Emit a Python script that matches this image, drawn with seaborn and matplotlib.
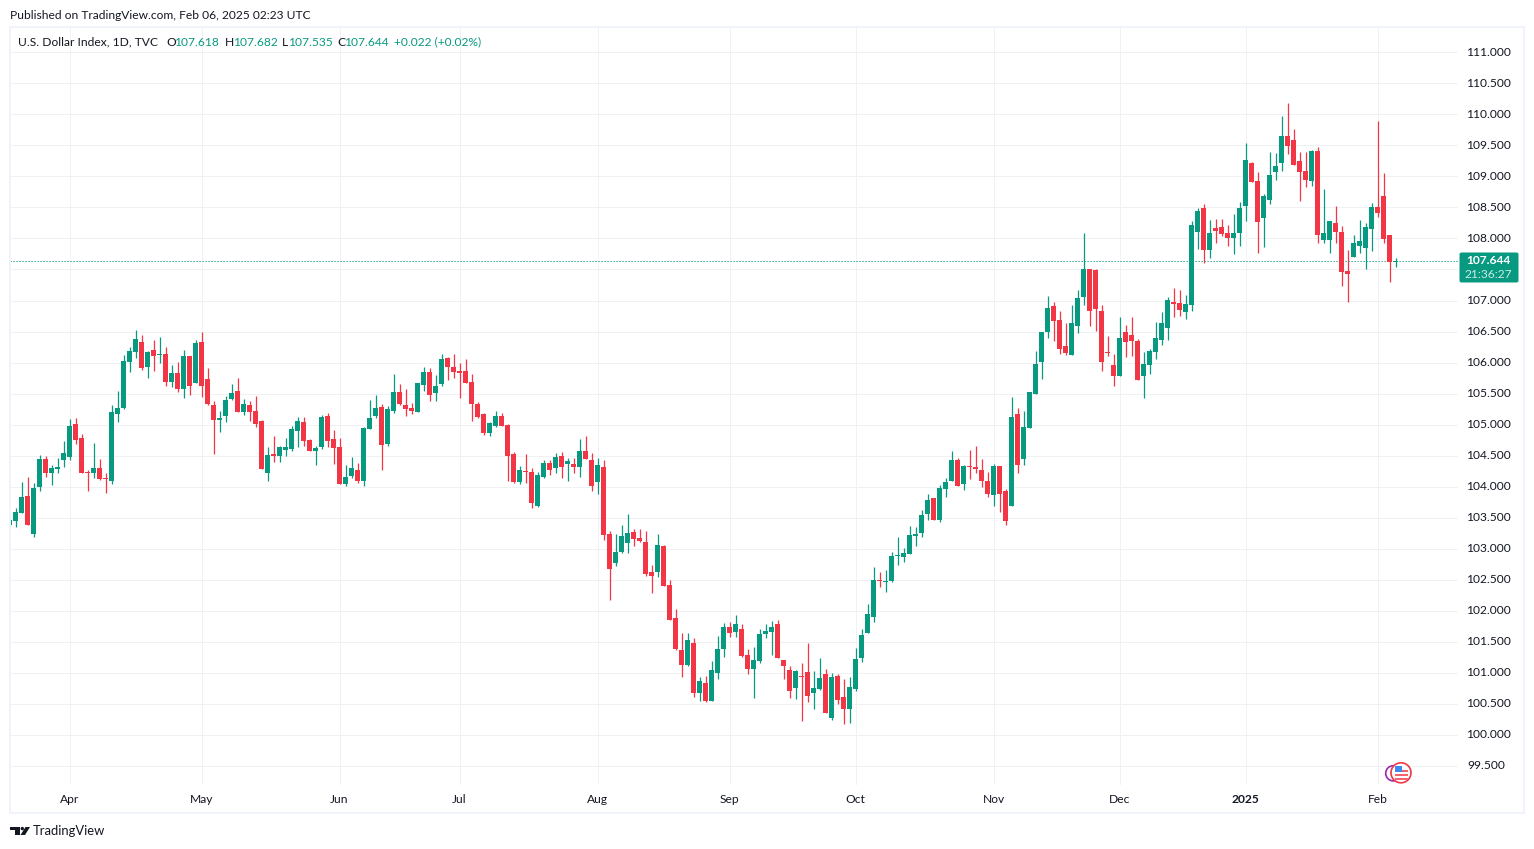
import matplotlib
matplotlib.use("Agg")
import matplotlib.pyplot as plt
import numpy as np
import pandas as pd
import seaborn as sns
from matplotlib.patches import Circle, FancyBboxPatch, Polygon, Rectangle
from matplotlib.transforms import ScaledTranslation

# daily DXY candles, first one is cut by the left edge
open_px = [
    103.38, 103.44, 103.58, 103.84, 103.24, 104.00, 104.44, 104.22, 104.29, 104.43,
    104.48, 105.01, 104.78, 104.23, 104.21, 104.30, 104.13, 104.09, 105.17, 105.26,
    106.01, 106.17, 106.33, 105.93, 106.20, 106.12, 106.14, 105.69, 105.83, 105.58,
    106.10, 105.67, 106.33, 105.73, 105.31, 105.08, 105.14, 105.41, 105.54, 105.20,
    105.31, 105.22, 105.05, 104.21, 104.51, 104.50, 104.59, 104.61, 104.90, 105.04,
    104.75, 104.58, 104.64, 105.13, 104.76, 104.63, 104.04, 104.17, 104.26, 104.09,
    104.93, 105.14, 105.28, 104.69, 105.22, 105.52, 105.31, 105.26, 105.20, 105.64,
    105.84, 105.51, 105.66, 106.07, 105.93, 105.86, 105.86, 105.68, 105.33, 105.17,
    104.87, 104.98, 105.13, 104.99, 104.52, 104.08, 104.25, 104.23, 103.69, 104.16,
    104.38, 104.30, 104.49, 104.37, 104.36, 104.32, 104.57, 104.43, 104.08, 104.31,
    103.23, 102.77, 102.95, 103.09, 103.26, 103.17, 103.10, 102.62, 102.62, 103.04,
    102.41, 101.88, 101.36, 101.12, 101.47, 100.67, 100.83, 100.54, 101.00, 101.38,
    101.73, 101.66, 101.70, 101.28, 101.06, 101.19, 101.62, 101.66, 101.78, 101.20,
    101.04, 100.75, 100.94, 101.01, 100.67, 100.73, 100.97, 100.27, 100.94, 100.60,
    100.41, 100.74, 101.24, 101.64, 101.90, 102.48, 102.46, 102.47, 102.88, 102.86,
    102.91, 103.20, 103.25, 103.56, 103.81, 103.46, 103.96, 104.09, 104.43, 104.04,
    104.33, 104.31, 104.26, 104.09, 103.87, 104.33, 103.93, 103.69, 105.17, 104.45,
    104.95, 105.50, 106.01, 106.50, 106.91, 106.68, 106.26, 106.12, 106.59, 107.06,
    107.51, 107.49, 106.83, 106.17, 105.96, 105.79, 106.49, 106.44, 106.34, 105.79,
    105.96, 106.17, 106.36, 106.55, 106.97, 106.96, 106.81, 106.93, 108.10, 108.49,
    107.81, 108.17, 108.18, 108.09, 108.01, 108.09, 108.52, 109.22, 108.93, 108.33,
    108.62, 109.07, 109.22, 109.65, 109.59, 109.25, 109.09, 108.93, 109.41, 107.97,
    107.97, 108.25, 108.10, 107.47, 107.70, 107.88, 107.84, 108.15, 108.51, 108.68,
    108.05, 107.618,
]
high_px = [
    103.46, 103.65, 104.07, 104.15, 104.05, 104.51, 104.49, 104.34, 104.46, 104.73,
    105.09, 105.10, 104.84, 104.26, 104.70, 104.44, 104.22, 105.31, 105.54, 106.12,
    106.25, 106.52, 106.44, 106.18, 106.36, 106.41, 106.25, 105.96, 106.01, 106.20,
    106.10, 106.36, 106.49, 105.91, 105.38, 105.22, 105.46, 105.65, 105.75, 105.41,
    105.38, 105.46, 105.07, 104.64, 104.81, 104.65, 104.78, 104.97, 105.12, 105.12,
    104.76, 104.65, 105.15, 105.18, 104.91, 104.78, 104.34, 104.47, 104.38, 104.96,
    105.39, 105.47, 105.33, 105.30, 105.81, 105.65, 105.57, 105.34, 105.67, 105.93,
    105.91, 105.80, 106.13, 106.09, 106.13, 105.99, 106.05, 105.81, 105.36, 105.18,
    105.04, 105.21, 105.18, 105.01, 104.55, 104.33, 104.52, 104.30, 104.23, 104.43,
    104.43, 104.54, 104.55, 104.46, 104.46, 104.76, 104.81, 104.54, 104.46, 104.43,
    103.28, 103.23, 103.38, 103.55, 103.31, 103.31, 103.28, 102.73, 103.23, 103.05,
    102.49, 102.02, 101.64, 101.64, 101.55, 100.93, 100.94, 101.18, 101.59, 101.80,
    101.81, 101.93, 101.78, 101.38, 101.41, 101.70, 101.78, 101.83, 101.84, 101.20,
    101.10, 101.04, 101.15, 101.47, 101.02, 101.23, 101.05, 100.99, 100.97, 100.89,
    100.93, 101.39, 101.70, 102.10, 102.70, 102.62, 102.65, 102.94, 103.18, 103.01,
    103.36, 103.34, 103.62, 103.88, 103.81, 104.02, 104.14, 104.57, 104.46, 104.34,
    104.59, 104.65, 104.44, 104.23, 104.36, 104.33, 103.96, 105.44, 105.26, 105.22,
    105.52, 106.18, 106.49, 107.07, 106.97, 106.83, 106.64, 106.93, 107.17, 108.09,
    107.51, 107.51, 106.93, 106.43, 106.14, 106.73, 106.60, 106.73, 106.38, 106.17,
    106.22, 106.65, 106.81, 107.05, 107.20, 107.17, 107.09, 108.28, 108.49, 108.55,
    108.30, 108.31, 108.31, 108.22, 108.39, 108.59, 109.54, 109.23, 109.07, 108.72,
    109.39, 109.38, 109.97, 110.18, 109.76, 109.39, 109.39, 109.43, 109.47, 108.80,
    108.28, 108.52, 108.20, 107.81, 108.05, 108.30, 108.25, 108.57, 109.89, 109.05,
    108.05, 107.682,
]
low_px = [
    103.38, 103.35, 103.58, 103.38, 103.19, 103.93, 104.16, 104.03, 104.22, 104.32,
    104.43, 104.69, 104.22, 103.93, 104.14, 104.11, 103.90, 104.04, 105.04, 105.25,
    105.85, 106.08, 105.88, 105.75, 105.87, 106.00, 105.62, 105.61, 105.53, 105.43,
    105.48, 105.67, 105.45, 105.32, 104.53, 104.88, 105.04, 105.40, 105.20, 105.16,
    105.06, 104.96, 104.29, 104.09, 104.40, 104.40, 104.50, 104.58, 104.64, 104.66,
    104.58, 104.34, 104.61, 104.63, 104.36, 104.04, 104.01, 104.14, 104.06, 104.01,
    104.93, 105.11, 104.27, 104.66, 105.19, 105.32, 105.14, 105.17, 105.20, 105.54,
    105.38, 105.38, 105.62, 105.72, 105.75, 105.43, 105.67, 105.06, 105.11, 104.83,
    104.82, 104.96, 104.98, 104.09, 104.06, 104.04, 104.06, 103.66, 103.67, 104.14,
    104.19, 104.22, 104.14, 104.09, 104.22, 104.16, 104.45, 103.93, 103.88, 103.14,
    102.17, 102.71, 102.93, 102.93, 103.04, 103.11, 102.56, 102.29, 102.54, 102.40,
    101.85, 101.37, 100.93, 101.11, 100.61, 100.54, 100.53, 100.54, 100.90, 101.25,
    101.58, 101.58, 101.25, 100.98, 100.59, 101.16, 101.56, 101.29, 101.24, 100.90,
    100.59, 100.58, 100.22, 100.53, 100.41, 100.72, 100.35, 100.24, 100.50, 100.17,
    100.19, 100.71, 101.17, 101.64, 101.82, 102.38, 102.30, 102.46, 102.73, 102.78,
    102.91, 103.04, 103.18, 103.46, 103.46, 103.43, 103.83, 104.09, 104.01, 103.94,
    104.12, 104.22, 104.00, 103.83, 103.69, 103.59, 103.38, 103.69, 104.21, 104.35,
    104.95, 105.50, 105.74, 106.40, 106.35, 106.14, 106.12, 106.12, 106.48, 106.93,
    106.59, 106.51, 105.87, 106.11, 105.62, 105.79, 106.09, 106.11, 105.71, 105.43,
    105.82, 106.06, 106.28, 106.36, 106.73, 106.75, 106.70, 106.83, 107.83, 107.60,
    107.68, 107.93, 108.04, 107.88, 107.75, 107.88, 108.28, 108.91, 107.76, 107.86,
    108.55, 108.94, 109.09, 109.36, 109.18, 108.60, 108.83, 108.84, 107.93, 107.93,
    107.76, 107.93, 107.23, 106.97, 107.70, 107.76, 107.51, 107.80, 108.34, 107.93,
    107.30, 107.535,
]
close_px = [
    103.46, 103.59, 103.83, 103.38, 103.97, 104.44, 104.22, 104.30, 104.30, 104.54,
    104.97, 104.75, 104.22, 104.21, 104.30, 104.12, 104.12, 105.20, 105.26, 106.02,
    106.18, 106.38, 105.91, 106.17, 106.11, 106.14, 105.69, 105.83, 105.58, 106.10,
    105.62, 106.31, 105.62, 105.33, 105.08, 105.09, 105.39, 105.51, 105.20, 105.33,
    105.20, 105.01, 104.29, 104.51, 104.50, 104.64, 104.64, 104.92, 105.05, 104.74,
    104.58, 104.62, 105.12, 104.74, 104.62, 104.04, 104.15, 104.30, 104.09, 104.94,
    105.10, 105.26, 104.67, 105.25, 105.52, 105.33, 105.25, 105.22, 105.67, 105.84,
    105.48, 105.62, 106.05, 105.93, 105.85, 105.83, 105.67, 105.33, 105.12, 104.87,
    105.02, 105.13, 104.98, 104.49, 104.08, 104.26, 104.23, 103.74, 104.18, 104.38,
    104.27, 104.47, 104.32, 104.41, 104.32, 104.57, 104.45, 104.01, 104.34, 103.22,
    102.67, 102.94, 103.20, 103.25, 103.16, 103.12, 102.59, 102.56, 103.05, 102.40,
    101.85, 101.38, 101.12, 101.52, 100.67, 100.86, 100.54, 101.04, 101.38, 101.73,
    101.64, 101.78, 101.26, 101.06, 101.20, 101.62, 101.67, 101.73, 101.24, 101.11,
    100.71, 101.02, 100.93, 100.62, 100.75, 100.91, 100.35, 100.93, 100.56, 100.41,
    100.76, 101.22, 101.60, 101.94, 102.49, 102.47, 102.47, 102.88, 102.89, 102.93,
    103.22, 103.23, 103.54, 103.78, 103.46, 103.97, 104.07, 104.43, 104.01, 104.33,
    104.32, 104.28, 104.09, 103.88, 104.33, 103.88, 103.45, 105.12, 104.35, 104.96,
    105.52, 105.97, 106.49, 106.88, 106.67, 106.22, 106.16, 106.64, 107.04, 107.51,
    106.83, 106.87, 106.01, 106.16, 105.79, 106.39, 106.33, 106.35, 105.72, 105.97,
    106.18, 106.39, 106.64, 107.01, 106.94, 106.84, 106.94, 108.22, 108.44, 107.81,
    108.09, 108.12, 108.07, 108.01, 108.09, 108.49, 109.26, 108.91, 108.26, 108.68,
    109.02, 109.17, 109.65, 109.49, 109.18, 109.07, 108.94, 109.41, 108.05, 108.09,
    108.28, 108.10, 107.46, 107.43, 107.93, 107.96, 108.18, 108.51, 108.41, 107.99,
    107.62, 107.644,
]

# first bar of each month on the time axis
month_bars = [9, 31, 54, 74, 97, 119, 140, 163, 184, 205, 227]
month_labels = ["Apr", "May", "Jun", "Jul", "Aug", "Sep", "Oct", "Nov", "Dec", "2025", "Feb"]
price_ticks = [99.5 + 0.5 * k for k in range(24)]
last_price = 107.644

UP = "#089981"
DOWN = "#F23645"
INK = "#131722"
GRID = "#f0f1f2"
FONT = "Lato"
PX = 0.72  # points per pixel at dpi 100
TEXT = 12 * PX

W, H = 1534, 849

sns.set_theme(style="white")
plt.rcParams["font.family"] = [FONT, "DejaVu Sans"]

df = pd.DataFrame({"bar": np.arange(-1, len(open_px) - 1), "o": open_px, "h": high_px, "l": low_px, "c": close_px})
df["bottom"] = df[["o", "c"]].min(axis=1)
df["height"] = (df["c"] - df["o"]).abs().clip(lower=0.017)
df["up"] = df["c"] >= df["o"]

fig = plt.figure(figsize=(W / 100, H / 100), dpi=100, facecolor="white")
ax = fig.add_axes([10 / W, 1 - 785 / H, 1448 / W, 758 / H])

# wicks first, bodies on top
for is_up, color in [(True, UP), (False, DOWN)]:
    part = df[df["up"] == is_up]
    ax.vlines(part["bar"], part["l"], part["h"], color=color, linewidth=1.25 * PX, zorder=3)
    sns.barplot(
        data=part, x="bar", y="height", bottom=part["bottom"].to_numpy(), native_scale=True,
        color=color, saturation=1, width=5 / 6, errorbar=None, linewidth=0, antialiased=False,
        zorder=4, ax=ax,
    )

ax.axhline(last_price, color=UP, linewidth=1 * PX, linestyle=(0, (1.2, 1.8)), zorder=2.5)

ax.set_xlim(-5.5 / 6, 1442.5 / 6)
ax.set_ylim(99.186, 111.411)
ax.set_xticks(month_bars)
ax.set_xticklabels(month_labels)
ax.yaxis.tick_right()
ax.set_yticks(price_ticks)
# the price tag hides 107.500 on the scale
ax.set_yticklabels(["" if p == 107.5 else f"{p:.3f}" for p in price_ticks])
ax.tick_params(axis="x", length=0, pad=9 * PX, labelsize=TEXT, labelcolor=INK)
ax.tick_params(axis="y", length=0, pad=9 * PX, labelsize=TEXT, labelcolor=INK)
ax.xaxis.get_ticklabels()[month_labels.index("2025")].set_fontweight("bold")
for label in ax.yaxis.get_ticklabels():
    label.set_transform(label.get_transform() + ScaledTranslation(0, 1 * PX / 72, fig.dpi_scale_trans))
ax.set_xlabel("")
ax.set_ylabel("")
ax.grid(True, color=GRID, linewidth=1 * PX)
ax.set_axisbelow(True)
sns.despine(ax=ax, left=True, bottom=True, right=True, top=True)

# overlay in image pixels for the frame, header, price tag and logos
ov = fig.add_axes([0, 0, 1, 1], facecolor="none")
ov.set_xlim(0, W)
ov.set_ylim(H, 0)
ov.axis("off")

ov.add_patch(Rectangle((10, 27), 1514, 786, fill=False, edgecolor="#f0f3fa", linewidth=2 * PX))
ov.text(10, 15, "Published on TradingView.com, Feb 06, 2025 02:23 UTC", fontsize=TEXT, color=INK, va="center")

ov.text(18, 42, "U.S. Dollar Index, 1D, TVC", fontsize=TEXT, color=INK, va="center")
for x, gap, letter, value in [(166, 9, "O", "107.618"), (225, 9, "H", "107.682"), (282, 7, "L", "107.535"), (337, 8, "C", "107.644")]:
    ov.text(x, 42, letter, fontsize=TEXT, color=INK, va="center")
    ov.text(x + gap, 42, value, fontsize=TEXT, color=UP, va="center")
ov.text(394, 42, "+0.022 (+0.02%)", fontsize=TEXT, color=UP, va="center")

ov.add_patch(FancyBboxPatch((1460, 253), 58, 29, boxstyle="round,pad=0,rounding_size=1.5", facecolor=UP, edgecolor=UP, linewidth=1 * PX))
ov.text(1488.5, 260.5, "107.644", fontsize=TEXT, color="white", fontweight="bold", ha="center", va="center")
ov.text(1488.5, 275, "21:36:27", fontsize=TEXT, color="#cdeae4", ha="center", va="center")

# country flag marker
ov.add_patch(Circle((1393.3, 773.3), 7.6, facecolor="white", edgecolor="#9c27b0", linewidth=1.2))
ov.add_patch(Circle((1401, 772.8), 10, facecolor="white", edgecolor=DOWN, linewidth=1.2))
for y in [770.5, 775, 779]:
    ov.add_patch(Rectangle((1394.5, y - 0.9), 13.2, 2, facecolor="#f4636f", edgecolor="none"))
ov.add_patch(Rectangle((1394.5, 765.8), 7.5, 6.5, facecolor="#3d8bef", edgecolor="none"))

# TradingView logo
ov.add_patch(Polygon([(10, 827), (20, 827), (20, 835), (15, 835), (15, 830), (10, 830)], facecolor=INK, edgecolor="none"))
ov.add_patch(Circle((22.3, 828.6), 1.7, facecolor=INK, edgecolor="none"))
ov.add_patch(Polygon([(25.5, 827), (30, 827), (25, 835), (20.5, 835)], facecolor=INK, edgecolor="none"))
ov.text(33, 831, "TradingView", fontsize=13 * PX, color=INK, va="center")

fig.savefig("out.png", dpi=100)
